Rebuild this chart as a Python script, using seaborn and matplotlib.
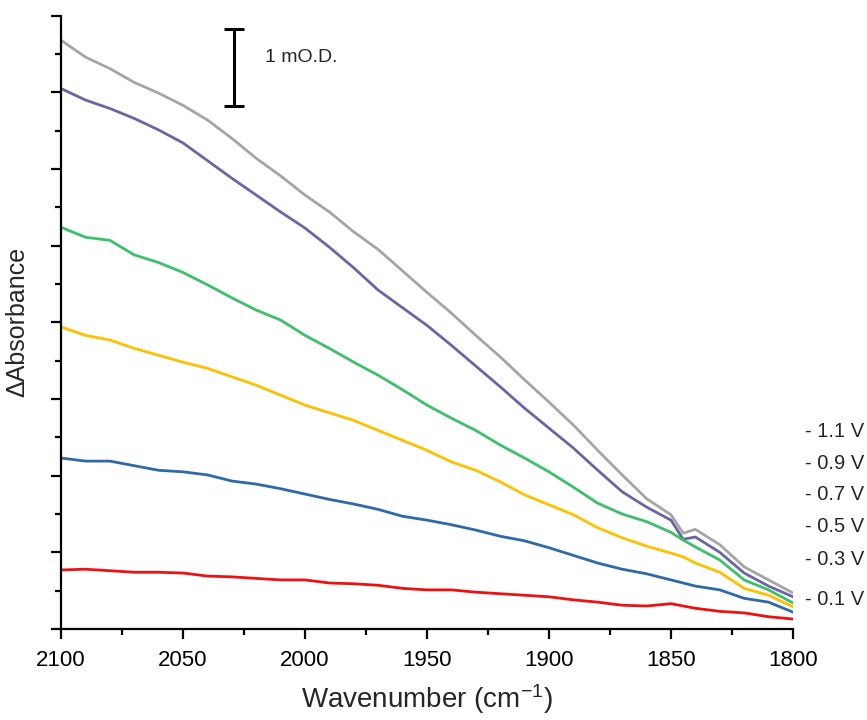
import numpy as np
import pandas as pd
import matplotlib
matplotlib.use("Agg")
import matplotlib.pyplot as plt
import seaborn as sns

# ---------------- data (mOD) ----------------
wavenumber = [2100, 2090, 2080, 2070, 2060, 2050, 2040, 2030, 2020, 2010,
              2000, 1990, 1980, 1970, 1960, 1950, 1940, 1930, 1920, 1910,
              1900, 1890, 1880, 1870, 1860, 1850, 1845, 1840, 1830, 1820,
              1810, 1800]

v_1_1 = [7.68, 7.46, 7.31, 7.13, 6.99, 6.83, 6.64, 6.40, 6.14, 5.91,
         5.66, 5.44, 5.18, 4.95, 4.67, 4.39, 4.12, 3.83, 3.55, 3.25,
         2.96, 2.66, 2.33, 2.01, 1.70, 1.49, 1.25, 1.30, 1.10, 0.81,
         0.64, 0.47]
v_0_9 = [7.05, 6.90, 6.79, 6.66, 6.51, 6.34, 6.11, 5.88, 5.66, 5.44,
         5.23, 4.98, 4.71, 4.42, 4.19, 3.96, 3.70, 3.43, 3.16, 2.88,
         2.62, 2.36, 2.07, 1.79, 1.59, 1.42, 1.17, 1.20, 1.00, 0.73,
         0.56, 0.42]
v_0_7 = [5.24, 5.11, 5.07, 4.88, 4.78, 4.65, 4.49, 4.32, 4.16, 4.03,
         3.83, 3.66, 3.48, 3.31, 3.12, 2.92, 2.75, 2.59, 2.40, 2.23,
         2.05, 1.85, 1.64, 1.50, 1.40, 1.26, 1.16, 1.07, 0.90, 0.64,
         0.51, 0.34]
v_0_5 = [3.94, 3.83, 3.77, 3.66, 3.57, 3.48, 3.40, 3.29, 3.18, 3.05,
         2.92, 2.82, 2.72, 2.59, 2.46, 2.33, 2.18, 2.07, 1.92, 1.75,
         1.62, 1.49, 1.32, 1.19, 1.08, 0.99, 0.94, 0.86, 0.74, 0.53,
         0.44, 0.29]
v_0_3 = [2.23, 2.19, 2.19, 2.13, 2.07, 2.05, 2.01, 1.93, 1.89, 1.83,
         1.76, 1.69, 1.63, 1.56, 1.47, 1.42, 1.36, 1.29, 1.21, 1.15,
         1.06, 0.96, 0.86, 0.78, 0.72, 0.64, 0.60, 0.56, 0.51, 0.40,
         0.35, 0.22]
v_0_1 = [0.77, 0.78, 0.76, 0.74, 0.74, 0.73, 0.69, 0.68, 0.66, 0.64,
         0.64, 0.60, 0.59, 0.57, 0.53, 0.51, 0.51, 0.48, 0.46, 0.44,
         0.42, 0.38, 0.35, 0.31, 0.30, 0.33, 0.30, 0.27, 0.23, 0.21,
         0.16, 0.13]

series_labels = ["- 1.1 V", "- 0.9 V", "- 0.7 V", "- 0.5 V", "- 0.3 V", "- 0.1 V"]
series_values = [v_1_1, v_0_9, v_0_7, v_0_5, v_0_3, v_0_1]
series_colors = ["#a5a5a5", "#6a66a3", "#3dbf6b", "#ffc000", "#2e6aa8", "#ee1111"]
label_y = [2.57, 2.16, 1.75, 1.34, 0.90, 0.38]

x_ticks = [2100, 2050, 2000, 1950, 1900, 1850, 1800]
scale_bar_text = "1 mO.D."

# ---------------- style ----------------
sns.set_style("ticks")
plt.rcParams["font.family"] = ["Liberation Sans", "DejaVu Sans"]
plt.rcParams["mathtext.fontset"] = "custom"
plt.rcParams["mathtext.rm"] = "Liberation Sans"
plt.rcParams["mathtext.it"] = "Liberation Sans"

rows = []
for lab, vals in zip(series_labels, series_values):
    for w, v in zip(wavenumber, vals):
        rows.append({"wavenumber": w, "dA": v, "bias": lab})
df = pd.DataFrame(rows)

fig = plt.figure(figsize=(8.67, 7.2), dpi=100)
ax = fig.add_axes([0.0704, 0.1264, 0.8442, 0.8518])

sns.lineplot(data=df, x="wavenumber", y="dA", hue="bias",
             palette=series_colors, hue_order=series_labels,
             linewidth=2.0, legend=False, ax=ax, sort=True)

ax.set_xlim(2100, 1800)
ax.set_ylim(0, 8)
ax.set_xticks(x_ticks)
ax.set_xticklabels([str(t) for t in x_ticks])
ax.set_xticks(np.arange(1825, 2100, 50), minor=True)
ax.set_yticks(np.arange(0, 8.01, 1))
ax.set_yticks(np.arange(0.5, 8, 1), minor=True)
ax.set_yticklabels([])

for s in ["top", "right"]:
    ax.spines[s].set_visible(False)
for s in ["left", "bottom"]:
    ax.spines[s].set_linewidth(1.6)
    ax.spines[s].set_color("black")
ax.tick_params(axis="both", which="major", direction="out", length=7,
               width=1.6, colors="black", labelsize=16, pad=8)
ax.tick_params(axis="both", which="minor", direction="out", length=4,
               width=1.6, colors="black")

ax.set_xlabel("Wavenumber (cm$^{-1}$)", fontsize=20, labelpad=8)
ax.set_ylabel("ΔAbsorbance", fontsize=18, labelpad=8)

for lab, y in zip(series_labels, label_y):
    ax.text(1795, y, lab, fontsize=14.5, ha="left", va="center", clip_on=False)

# scale bar (1 mOD)
ax.errorbar([2029], [7.32], yerr=[0.5], color="black", elinewidth=2.2,
            capsize=7, capthick=2.2)
ax.text(2016.5, 7.45, scale_bar_text, fontsize=14, ha="left", va="center")

fig.savefig("out.png", dpi=100)
